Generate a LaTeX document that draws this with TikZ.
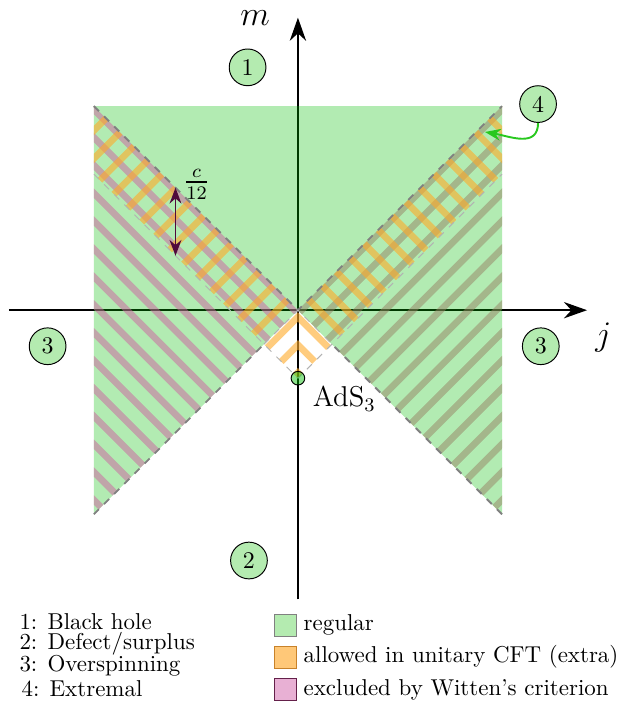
\documentclass[tikz,border=0pt]{standalone}
\usepackage{xcolor}
\usepackage{amsmath}
\usepackage{amssymb}
\usepackage{tikz}
\usetikzlibrary{positioning,arrows.meta}
\definecolor{regGreen}{RGB}{0,190,0}
\definecolor{bhGreen}{HTML}{B4EBB0}
\definecolor{cftOrange}{RGB}{255,170,40}
\definecolor{wittenPink}{RGB}{205,95,160}
\definecolor{wittenGray}{RGB}{150,130,100}
\definecolor{legOrange}{HTML}{FFC878}
\definecolor{legOrangeEdge}{HTML}{C8822A}
\definecolor{legPink}{HTML}{E8B0D4}
\definecolor{legPinkEdge}{HTML}{64204A}
\definecolor{gapPurple}{RGB}{80,10,60}
\definecolor{extGreen}{RGB}{40,200,30}
\tikzset{
  axis/.style={thick, -{Stealth[length=3.4mm, width=2.4mm]}},
  regionMark/.style={circle, draw, fill=bhGreen, minimum size=0.54cm, inner sep=0pt, font=\normalsize},
  boundary/.style={dashed, gray, line width=0.8pt},
  bandEdge/.style={dashed, gray!60, line width=0.4pt},
  stripePink/.style={wittenPink, opacity=0.5, line width=2.8pt},
  stripeGray/.style={wittenGray, opacity=0.5, line width=2.8pt},
  stripeOrange/.style={cftOrange, opacity=0.6, line width=2.8pt},
  legendBox/.style={draw, minimum size=0.32cm, inner sep=0pt},
  keyText/.style={anchor=west, inner sep=0pt}
}
\begin{document}
\begin{tikzpicture}[node distance=0.09cm, font=\fontsize{9.6pt}{11.6pt}\selectfont]
  \useasboundingbox (-4.38,-5.76) rectangle (4.75,4.56);

  \draw[axis] (-4.25,0) -- (4.25,0);
  \draw[axis] (0,-4.25) -- (0,4.3);
  \node[inner sep=0pt] at (-0.63,4.3) (mlab) {\Large $m$};
  \node[inner sep=0pt] at (4.49,-0.4) (jlab) {\Large $j$};

  \fill[regGreen, fill opacity=0.3] (-3,3) -- (3,3) -- (3,-3) -- (0,0) -- (-3,-3) -- cycle;

  \begin{scope}
    \clip (0,0) -- (-3,3) -- (-3,-3) -- cycle;
    \foreach \k in {0,...,15}
      \draw[stripePink] (-3.5,3.45-\k*0.41) -- ++(4,-4);
  \end{scope}
  \begin{scope}
    \clip (0,0) -- (3,3) -- (3,-3) -- cycle;
    \foreach \k in {0,...,15}
      \draw[stripeGray] (3.5,3.45-\k*0.41) -- ++(-4,-4);
  \end{scope}
  \begin{scope}
    \clip (0,0) -- (-3,3) -- (-3,2) -- (0,-1) -- cycle;
    \foreach \k in {-3,...,15}
      \draw[stripeOrange] (-3.5,-3.6+\k*0.41) -- ++(4,4);
  \end{scope}
  \begin{scope}
    \clip (0,0) -- (3,3) -- (3,2) -- (0,-1) -- cycle;
    \foreach \k in {-3,...,15}
      \draw[stripeOrange] (3.5,-3.6+\k*0.41) -- ++(-4,4);
  \end{scope}

  \draw[boundary] (-3,3) -- (0,0) -- (3,3);
  \draw[boundary] (-3,-3) -- (-0.5,-0.5);
  \draw[boundary] (3,-3) -- (0.5,-0.5);
  \draw[bandEdge] (-3,2) -- (0,-1) -- (3,2);
  \draw[bandEdge] (-0.5,-0.5) -- (0,0) -- (0.5,-0.5);

  \node[circle, draw, fill=regGreen, fill opacity=0.45, text opacity=1, minimum size=0.2cm, inner sep=0pt] (ads) at (0,-1) {};
  \node[below right=-0.08cm and 0.02cm of ads] (adslab) {\large AdS$_3$};

  \coordinate (gapTop) at (-1.8,1.8);
  \coordinate (gapBot) at (-1.8,0.8);
  \draw[gapPurple, thick, {Stealth}-{Stealth}] (gapTop) -- (gapBot);
  \node at (-1.49,1.85) (gaplab) {\large $\frac{c}{12}$};

  \node[regionMark] (bh) at (-0.74,3.57) {1};
  \node[regionMark] (defect) at (-0.72,-3.68) {2};
  \node[regionMark] (overL) at (-3.68,-0.53) {3};
  \node[regionMark] (overR) at (3.57,-0.53) {3};
  \node[regionMark] (extr) at (3.53,3.03) {4};
  \coordinate (extTip) at (2.75,2.62);
  \draw[extGreen, thick, -{Stealth}] (extr.south) to[out=-90, in=-10, looseness=1.2] (extTip);

  \node[keyText] (key1) at (-4.1,-4.58) {1: Black hole};
  \node[keyText] (key2) at (-4.1,-4.9) {2: Defect/surplus};
  \node[keyText] (key3) at (-4.1,-5.23) {3: Overspinning};
  \node[keyText] (key4) at (-4.07,-5.57) {4: Extremal};

  \node[legendBox, fill=bhGreen, draw=gray] (legReg) at (-0.18,-4.63) {};
  \node[right=of legReg, keyText] (legRegTxt) {regular};
  \node[legendBox, fill=legOrange, draw=legOrangeEdge] (legCft) at (-0.18,-5.1) {};
  \node[right=of legCft, keyText] (legCftTxt) {allowed in unitary CFT (extra)};
  \node[legendBox, fill=legPink, draw=legPinkEdge] (legWit) at (-0.18,-5.58) {};
  \node[right=of legWit, keyText] (legWitTxt) {excluded by Witten's criterion};
\end{tikzpicture}
\end{document}
